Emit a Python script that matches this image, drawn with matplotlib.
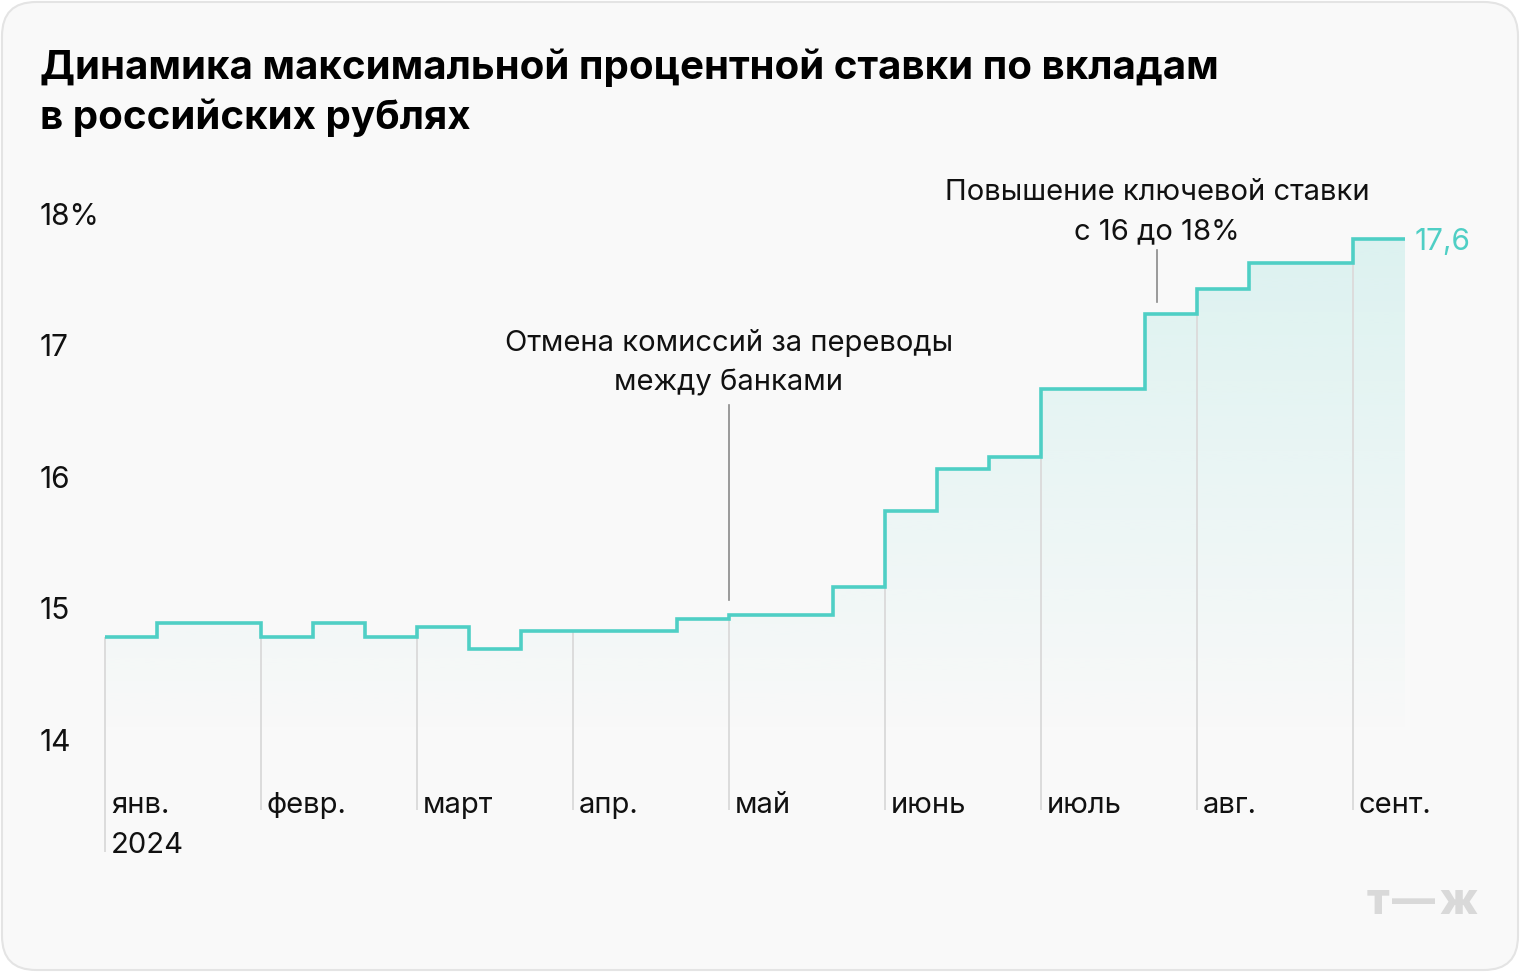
import matplotlib
matplotlib.use("Agg")
import matplotlib.pyplot as plt
import numpy as np
from matplotlib.patches import FancyBboxPatch
from matplotlib.transforms import blended_transform_factory

# ---- data (10-day periods, Jan I 2024 .. Sep I 2024) ----
rates = [14.78, 14.89, 14.89, 14.78, 14.89, 14.78, 14.86, 14.69, 14.83,
         14.83, 14.83, 14.92, 14.95, 14.95, 15.16, 15.74, 16.06, 16.15,
         16.67, 16.67, 17.24, 17.43, 17.63, 17.63, 17.81]
month_labels = ["янв.", "февр.", "март", "апр.", "май", "июнь", "июль", "авг.", "сент."]
month_starts = [0, 3, 6, 9, 12, 15, 18, 21, 24]
year_label = "2024"
y_ticks = [14, 15, 16, 17, 18]
y_tick_labels = ["14", "15", "16", "17", "18%"]
end_label = "17,6"
title = "Динамика максимальной процентной ставки по вкладам\nв российских рублях"
ann1 = ["Отмена комиссий за переводы", "между банками"]
ann1_x = 12
ann2 = ["Повышение ключевой ставки", "с 16 до 18%"]
ann2_x = 20.23

TEAL = "#4fcfc5"
BG = "#f9f9f9"
FONT = ["Inter", "DejaVu Sans"]
plt.rcParams['font.family'] = FONT
FS = 21
DY = 3  # text vertical nudge in px

W, H = 1520, 972
fig = plt.figure(figsize=(W / 100, H / 100), dpi=100)
fig.patch.set_facecolor("white")

# background card (pixel coordinates axes)
bg = fig.add_axes([0, 0, 1, 1], zorder=0)
bg.set_xlim(0, W)
bg.set_ylim(H, 0)
bg.axis("off")
bg.add_patch(FancyBboxPatch((2, 2), W - 4, H - 4,
                            boxstyle="round,pad=0,rounding_size=34",
                            facecolor=BG, edgecolor="#e4e4e4", linewidth=1.5))

# main axes in data units; mapping: x px = 105 + 52*x ; y px = 740 - 131.5*(v-14)
ax = fig.add_axes([0, 0, 1, 1], zorder=1)
ax.patch.set_alpha(0)
ax.set_xlim(-105 / 52, (W - 105) / 52)
ax.set_ylim(14 - (H - 740) / 131.5, 14 + 740 / 131.5)
ax.axis("off")

def v(py):
    return 14 + (740 - py) / 131.5

n = len(rates)
edges = np.arange(n + 1)

# gradient fill under the step line
xs = np.repeat(edges, 2)[1:-1]
ys = np.repeat(rates, 2)
poly_x = np.concatenate([xs, [n, 0]])
poly_y = np.concatenate([ys, [14.0, 14.0]])
clip = plt.Polygon(np.column_stack([poly_x, poly_y]), closed=True,
                   facecolor="none", edgecolor="none", transform=ax.transData)
ax.add_patch(clip)
ytop = max(rates)
grad = np.linspace(0, 1, 256).reshape(-1, 1)
rgba = np.zeros((256, 1, 4))
rgba[..., 0] = 0x4f / 255
rgba[..., 1] = 0xcf / 255
rgba[..., 2] = 0xc5 / 255
rgba[..., 3] = 0.17 * grad
img = ax.imshow(rgba, extent=[0, n, 14.0, ytop], origin="lower",
                aspect="auto", interpolation="bilinear", zorder=1)
img.set_clip_path(clip)

# month separators
for i, m in enumerate(month_starts):
    bottom = v(852) if i == 0 else v(810)
    top = rates[m] if m < n else rates[-1]
    ax.plot([m, m], [bottom, top], color="#dcdcdc", lw=1.4, zorder=2,
            solid_capstyle="butt")
    ax.text(m + 6 / 52, v(802 + DY), month_labels[i], fontsize=FS, color="#111111",
            ha="left", va="center", zorder=3)
ax.text(month_starts[0] + 6 / 52, v(842 + DY), year_label, fontsize=FS,
        color="#111111", ha="left", va="center", zorder=3)

# step line
ax.stairs(rates, edges, baseline=None, color=TEAL, lw=2.6, zorder=4)

# end label
ax.text(n + 10 / 52, v(239 + DY), end_label, fontsize=FS + 0.5, color=TEAL,
        ha="left", va="center", zorder=5)

# y tick labels
tr = blended_transform_factory(ax.transAxes, ax.transData)
for t, lab in zip(y_ticks, y_tick_labels):
    ax.text(40 / W, t - DY / 131.5, lab, transform=tr, fontsize=FS + 0.5,
            color="#111111", ha="left", va="center")

# annotations
ax.plot([ann1_x, ann1_x], [v(600), v(405)], color="#8a8a8a", lw=1.2, zorder=3)
ax.text(ann1_x, v(340 + DY), ann1[0], fontsize=FS, ha="center", va="center", color="#111111")
ax.text(ann1_x, v(380 + DY), ann1[1], fontsize=FS, ha="center", va="center", color="#111111")
ax.plot([ann2_x, ann2_x], [v(302), v(250)], color="#8a8a8a", lw=1.2, zorder=3)
ax.text(ann2_x, v(190 + DY), ann2[0], fontsize=FS, ha="center", va="center", color="#111111")
ax.text(ann2_x, v(229 + DY), ann2[1], fontsize=FS, ha="center", va="center", color="#111111")

# title
lines = title.split("\n")
fig.text(40 / W, 1 - (65 + DY) / H, lines[0], fontsize=29, fontweight="bold",
         ha="left", va="center", color="#000000", zorder=5)
fig.text(40 / W, 1 - (115 + DY) / H, lines[1], fontsize=29, fontweight="bold",
         ha="left", va="center", color="#000000", zorder=5)

# logo
for s, px in [("т", 1378), ("—", 1413), ("ж", 1458)]:
    fig.text(px / W, 1 - 902 / H, s, fontsize=31, fontweight="heavy",
             color="#d9d9d9", ha="center", va="center", zorder=5)

fig.savefig("out.png", dpi=100, facecolor=fig.get_facecolor())
